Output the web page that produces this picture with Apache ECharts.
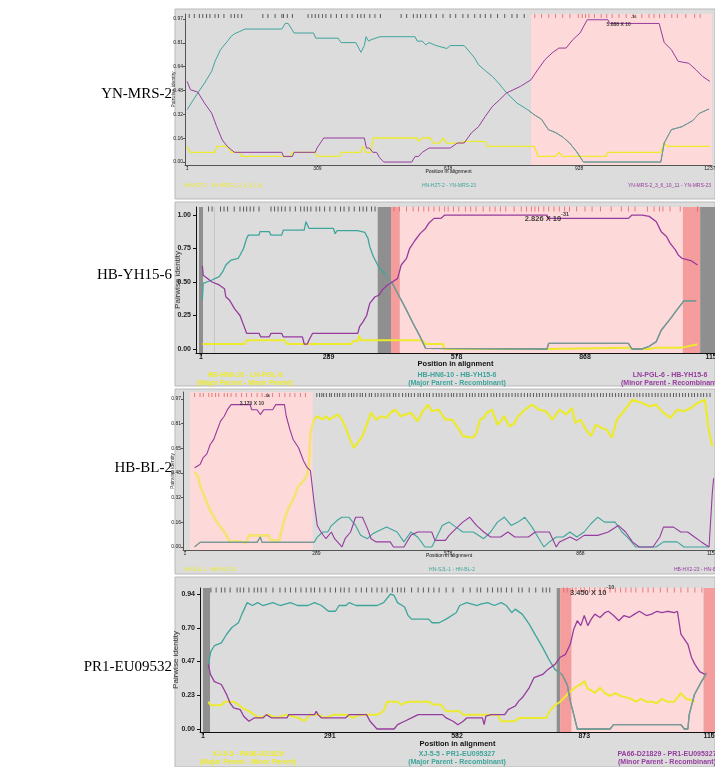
<!DOCTYPE html>
<html>
<head>
<meta charset="utf-8">
<title>RDP recombination plots</title>
<script src="https://cdn.jsdelivr.net/npm/echarts@6.0.0/dist/echarts.min.js"></script>
<style>
html, body { margin: 0; padding: 0; background: #fff; }
#main { width: 715px; height: 767px; }
</style>
</head>
<body>
<div id="main"></div>
<script>
// ---------- data (positions in alignment, pairwise identity) ----------
var panelNames = ['YN-MRS-2', 'HB-YH15-6', 'HB-BL-2', 'PR1-EU09532'];

// panel 1: YN-MRS-2
var p1XTicks = [1, 309, 618, 928, 1237];
var p1YTicks = [0, 0.1617, 0.3233, 0.485, 0.6467, 0.8083, 0.97];
var p1YLabels = ['0.00', '0.16', '0.32', '0.48', '0.64', '0.81', '0.97'];
var p1Yellow = [[1,0.106],[5,0.106],[8,0.066],[67,0.066],[71,0.106],[96,0.106],[105,0.066],[125,0.066],[130,0.038],[246,0.038],[250,0.066],[304,0.066],[308,0.038],[362,0.038],[366,0.066],[412,0.066],[416,0.106],[424,0.066],[436,0.066],[441,0.163],[544,0.163],[548,0.14],[557,0.163],[577,0.163],[582,0.129],[598,0.129],[606,0.163],[615,0.129],[648,0.129],[656,0.14],[706,0.14],[710,0.106],[822,0.106],[831,0.038],[872,0.038],[880,0.066],[889,0.038],[992,0.038],[996,0.066],[1121,0.066],[1129,0.129],[1138,0.106],[1237,0.106]];
var p1Teal = [[1,0.355],[26,0.468],[42,0.535],[59,0.615],[67,0.683],[80,0.762],[96,0.818],[105,0.852],[113,0.87],[125,0.885],[138,0.902],[225,0.902],[233,0.94],[240,0.94],[254,0.875],[300,0.875],[305,0.84],[358,0.84],[365,0.81],[400,0.81],[412,0.744],[420,0.79],[424,0.85],[430,0.82],[436,0.83],[457,0.85],[540,0.85],[545,0.82],[557,0.82],[565,0.795],[573,0.81],[590,0.79],[615,0.77],[623,0.79],[656,0.79],[665,0.76],[681,0.705],[690,0.66],[706,0.62],[723,0.58],[739,0.53],[756,0.47],[781,0.40],[806,0.355],[822,0.32],[839,0.29],[855,0.22],[872,0.2],[889,0.17],[905,0.13],[922,0.07],[938,0],[1121,0],[1129,0.13],[1146,0.22],[1171,0.24],[1196,0.28],[1212,0.33],[1235,0.36]];
var p1Purple = [[1,0.547],[9,0.49],[26,0.475],[42,0.40],[59,0.332],[71,0.24],[84,0.15],[96,0.106],[113,0.066],[225,0.066],[229,0.038],[250,0.038],[254,0.066],[304,0.066],[308,0.095],[316,0.129],[324,0.163],[420,0.163],[425,0.095],[432,0.095],[440,0.066],[449,0.066],[456,0.03],[466,0],[532,0],[540,0.038],[548,0.038],[557,0.066],[573,0.095],[623,0.095],[640,0.129],[656,0.129],[673,0.197],[690,0.24],[706,0.31],[723,0.378],[739,0.42],[756,0.468],[789,0.513],[814,0.558],[830,0.626],[847,0.694],[864,0.74],[880,0.773],[897,0.773],[913,0.83],[930,0.875],[947,0.965],[996,0.965],[1000,0.94],[1117,0.94],[1129,0.81],[1146,0.762],[1162,0.683],[1187,0.67],[1204,0.626],[1220,0.58],[1237,0.547]];
var p1Sites = [6,18,30,38,47,55,67,75,88,105,113,121,130,180,192,209,225,229,238,250,287,296,304,312,321,329,341,354,366,379,391,404,412,420,433,445,458,507,520,536,545,553,565,577,590,606,623,636,653,665,681,694,706,719,735,752,769,781,798,823,839,856,872,889,906,926,935,943,951,964,980,993,1006,1022,1039,1056,1076,1093,1105,1118,1130,1147,1160,1180,1201,1214];
var p1Regions = [[814, 1242, 'pink']];
var p1Recomb = [814, 1242];
var p1Guides = [];
var p1PValue = [1028, 0.958, '5.888 X 10', '-16'];
var p1Legend = ['HN-HZT-2 - YN-MRS-2_3_6_10_11', 'HN-HZT-2 - YN-MRS-23', 'YN-MRS-2_3_6_10_11 - YN-MRS-23'];

// panel 2: HB-YH15-6
var p2XTicks = [1, 289, 578, 868, 1157];
var p2YTicks = [0, 0.25, 0.5, 0.75, 1.0];
var p2YLabels = ['0.00', '0.25', '0.50', '0.75', '1.00'];
var p2Yellow = [[4,0.037],[100,0.037],[104,0.065],[190,0.065],[195,0.037],[340,0.037],[345,0.06],[355,0.06],[358,0.1],[362,0.065],[500,0.065],[508,0.037],[547,0.037],[551,0],[782,0],[786,0.01],[966,0.01],[974,0],[1013,0],[1029,0.01],[1087,0.01],[1122,0.035]];
var p2Teal = [[4,0.366],[6,0.49],[26,0.515],[42,0.54],[50,0.577],[57,0.627],[69,0.664],[85,0.677],[89,0.70],[97,0.75],[104,0.826],[108,0.85],[132,0.85],[134,0.876],[155,0.876],[159,0.85],[183,0.85],[187,0.888],[234,0.888],[238,0.95],[241,0.94],[245,0.9],[300,0.9],[304,0.86],[308,0.883],[355,0.883],[371,0.87],[378,0.826],[382,0.764],[390,0.69],[402,0.614],[418,0.552],[433,0.49],[449,0.39],[465,0.29],[480,0.19],[496,0.09],[508,0.005],[782,0],[786,0.042],[966,0.042],[974,0],[997,0],[1013,0.02],[1029,0.055],[1040,0.14],[1052,0.19],[1064,0.24],[1075,0.29],[1087,0.34],[1091,0.36],[1119,0.36]];
var p2Purple = [[4,0.62],[6,0.55],[26,0.50],[42,0.478],[54,0.45],[57,0.39],[65,0.366],[77,0.30],[89,0.25],[97,0.18],[104,0.117],[132,0.117],[136,0.09],[155,0.09],[159,0.117],[183,0.117],[187,0.09],[230,0.09],[234,0.037],[241,0.037],[245,0.067],[253,0.117],[296,0.117],[300,0.13],[304,0.117],[355,0.117],[359,0.167],[367,0.204],[375,0.25],[382,0.34],[394,0.39],[402,0.40],[410,0.44],[422,0.478],[433,0.50],[445,0.527],[453,0.627],[465,0.677],[472,0.75],[484,0.81],[496,0.863],[508,0.9],[515,0.938],[527,0.975],[543,0.975],[551,1.0],[782,1.0],[786,0.975],[966,0.975],[974,1.0],[997,1.0],[1013,0.99],[1029,0.95],[1040,0.876],[1052,0.84],[1060,0.79],[1072,0.74],[1079,0.70],[1087,0.677],[1107,0.66],[1122,0.627]];
var p2Sites = [18,26,45,53,61,76,89,97,104,112,120,132,159,167,175,183,191,202,214,226,234,241,249,261,269,280,292,304,316,324,335,347,359,367,375,386,394,437,449,465,480,492,504,515,527,539,551,559,571,583,598,610,622,638,653,665,677,689,708,724,736,747,755,763,775,786,798,810,822,833,849,868,884,903,927,950,966,981,1009,1024,1036,1044,1060,1083,1122];
var p2Regions = [[-3.5, 5.5, 'grey'], [400, 430, 'grey'], [430, 450, 'red'], [450, 1089, 'pink'], [1089, 1128, 'red'], [1128, 1162, 'grey']];
var p2Recomb = [430, 1162];
var p2Guides = [30];
var p2PValue = [782, 0.985, '2.826 X 10', '-31'];
var p2Legend = ['HB-HN6-10 - LN-PGL-6\n(Major Parent - Minor Parent)', 'HB-HN6-10 - HB-YH15-6\n(Major Parent - Recombinant)', 'LN-PGL-6 - HB-YH15-6\n(Minor Parent - Recombinant)'];

// panel 3: HB-BL-2
var p3XTicks = [1, 289, 578, 868, 1157];
var p3YTicks = [0, 0.1617, 0.3233, 0.485, 0.6467, 0.8083, 0.97];
var p3YLabels = ['0.00', '0.16', '0.32', '0.48', '0.65', '0.81', '0.97'];
var p3Yellow = [[22,0.49],[30,0.46],[34,0.40],[41,0.35],[49,0.29],[56,0.24],[72,0.16],[87,0.10],[98,0.04],[102,0.03],[136,0.03],[140,0.076],[185,0.076],[189,0.043],[208,0.043],[212,0.1],[219,0.18],[227,0.25],[238,0.31],[250,0.40],[261,0.434],[269,0.477],[273,0.55],[276,0.75],[284,0.835],[291,0.857],[303,0.835],[310,0.857],[318,0.835],[329,0.857],[337,0.868],[345,0.835],[352,0.79],[360,0.727],[371,0.65],[379,0.68],[390,0.727],[398,0.79],[409,0.88],[420,0.835],[432,0.857],[443,0.846],[451,0.88],[462,0.9],[474,0.857],[496,0.88],[511,0.824],[522,0.89],[534,0.933],[542,0.89],[557,0.9],[572,0.835],[587,0.835],[602,0.77],[610,0.727],[633,0.716],[640,0.75],[648,0.835],[656,0.846],[663,0.88],[674,0.9],[686,0.802],[693,0.824],[701,0.857],[712,0.79],[724,0.813],[731,0.857],[746,0.9],[762,0.933],[777,0.9],[792,0.89],[807,0.835],[822,0.9],[837,0.868],[849,0.911],[857,0.813],[868,0.835],[880,0.77],[891,0.727],[902,0.802],[914,0.78],[925,0.77],[937,0.716],[948,0.835],[963,0.89],[982,0.965],[1004,0.944],[1019,0.922],[1034,0.933],[1050,0.88],[1065,0.846],[1080,0.9],[1095,0.89],[1110,0.911],[1125,0.944],[1141,0.965],[1149,0.77],[1157,0.66]];
var p3Teal = [[22,0],[34,0.03],[159,0.03],[166,0.065],[170,0.03],[284,0.03],[291,0.065],[303,0.098],[314,0.098],[322,0.14],[337,0.18],[345,0.195],[360,0.195],[375,0.141],[386,0.076],[401,0.054],[413,0.087],[420,0.098],[443,0.13],[466,0.098],[481,0.033],[496,0.098],[511,0.065],[519,0.033],[527,0],[542,0],[553,0.065],[565,0.141],[580,0.163],[595,0.13],[610,0.098],[633,0.098],[656,0.054],[671,0.098],[686,0.163],[701,0.195],[716,0.141],[731,0.163],[746,0.195],[762,0.13],[777,0.054],[788,0],[800,0.033],[815,0.065],[830,0.065],[845,0.098],[860,0.065],[876,0.098],[891,0.152],[906,0.195],[921,0.163],[944,0.163],[959,0.098],[974,0.054],[989,0],[1034,0],[1050,0.033],[1080,0.033],[1095,0],[1150,0]];
var p3Purple = [[22,0.52],[34,0.54],[41,0.586],[49,0.61],[56,0.67],[64,0.705],[72,0.77],[79,0.825],[87,0.857],[94,0.9],[102,0.933],[144,0.933],[147,0.9],[159,0.9],[166,0.868],[174,0.9],[193,0.9],[200,0.933],[219,0.933],[223,0.857],[231,0.77],[238,0.705],[250,0.65],[261,0.564],[269,0.52],[276,0.50],[284,0.293],[291,0.14],[299,0.098],[310,0.054],[322,0.098],[329,0.054],[345,0],[352,0.054],[364,0.098],[375,0.195],[390,0.195],[401,0.12],[409,0.054],[420,0.033],[451,0.033],[458,0],[481,0],[496,0.076],[511,0.098],[542,0.098],[549,0.043],[572,0.043],[580,0.076],[595,0.12],[610,0.163],[625,0.195],[640,0.141],[656,0.098],[671,0.065],[693,0.065],[709,0.098],[724,0.065],[754,0.065],[769,0.098],[800,0.098],[815,0],[822,0.033],[845,0.065],[860,0.043],[876,0.076],[906,0.076],[929,0.098],[951,0.141],[967,0.098],[982,0.033],[997,0],[1027,0],[1042,0.065],[1050,0.13],[1072,0.13],[1088,0.098],[1103,0.098],[1118,0.065],[1133,0.033],[1150,0],[1157,0.35],[1160,0.45]];
var p3Sites = [22,34,41,53,60,68,75,87,94,102,113,125,136,147,159,170,182,193,208,220,231,242,254,265,290,296,301,305,311,318,322,329,335,340,347,352,360,366,371,378,385,390,397,405,410,418,424,431,437,444,450,458,463,470,478,485,491,497,504,512,517,524,531,537,545,552,558,564,571,578,585,590,597,604,610,618,625,631,637,645,651,657,664,672,678,684,691,698,705,711,718,725,731,738,745,752,758,765,772,778,785,792,798,805,812,818,825,832,838,845,852,858,865,872,878,885,892,898,905,912,918,925,932,938,945,952,958,965,972,978,985,992,998,1005,1012,1018,1025,1032,1038,1045,1052,1058,1065,1072,1078,1085,1092,1098,1105,1112,1118,1125,1132,1138,1145,1152];
var p3Regions = [[12, 281, 'pink']];
var p3Recomb = [12, 281];
var p3Guides = [];
var p3PValue = [154, 0.964, '3.170 X 10', '-14'];
var p3Legend = ['HN-SJL-1 - HB-HX2-23', 'HN-SJL-1 - HN-BL-2', 'HB-HX2-23 - HN-BL-2'];

// panel 4: PR1-EU09532
var p4XTicks = [1, 291, 582, 873, 1163];
var p4YTicks = [0, 0.235, 0.47, 0.705, 0.94];
var p4YLabels = ['0.00', '0.23', '0.47', '0.70', '0.94'];
var p4Yellow = [[13,0.19],[19,0.165],[43,0.165],[51,0.19],[71,0.19],[82,0.17],[94,0.14],[106,0.124],[118,0.1],[130,0.077],[150,0.1],[170,0.077],[190,0.1],[220,0.077],[233,0.054],[245,0.1],[265,0.1],[280,0.077],[300,0.1],[330,0.1],[345,0.077],[360,0.1],[400,0.1],[414,0.124],[422,0.19],[446,0.19],[454,0.17],[470,0.19],[520,0.19],[525,0.17],[545,0.17],[557,0.124],[588,0.124],[596,0.1],[675,0.1],[683,0.054],[715,0.054],[723,0.077],[786,0.077],[794,0.124],[806,0.165],[818,0.19],[834,0.24],[849,0.28],[857,0.3],[865,0.31],[873,0.334],[881,0.28],[889,0.27],[897,0.25],[909,0.287],[920,0.25],[932,0.23],[944,0.25],[956,0.23],[968,0.22],[980,0.21],[991,0.19],[1003,0.21],[1015,0.19],[1027,0.19],[1039,0.18],[1051,0.21],[1063,0.19],[1079,0.19],[1094,0.25],[1106,0.21],[1118,0.2],[1126,0.19]];
var p4Teal = [[13,0.45],[19,0.54],[27,0.58],[43,0.60],[55,0.66],[67,0.707],[82,0.74],[90,0.80],[102,0.88],[114,0.86],[126,0.88],[138,0.86],[161,0.88],[177,0.86],[201,0.88],[217,0.86],[241,0.86],[256,0.88],[272,0.86],[288,0.82],[304,0.82],[312,0.86],[328,0.86],[335,0.88],[351,0.86],[399,0.86],[414,0.88],[430,0.94],[438,0.93],[446,0.88],[462,0.85],[470,0.79],[478,0.765],[517,0.765],[525,0.74],[541,0.74],[557,0.765],[580,0.81],[588,0.86],[604,0.88],[628,0.86],[636,0.87],[652,0.88],[667,0.86],[683,0.88],[695,0.86],[707,0.81],[715,0.835],[731,0.80],[747,0.73],[762,0.65],[778,0.567],[794,0.474],[806,0.415],[822,0.38],[834,0.31],[841,0.194],[849,0.1],[857,0],[932,0],[940,0.03],[1094,0.03],[1102,0],[1110,0],[1113,0.1],[1125,0.24],[1141,0.33],[1153,0.39]];
var p4Purple = [[13,0.45],[18,0.38],[27,0.33],[43,0.31],[55,0.24],[63,0.18],[71,0.147],[86,0.135],[94,0.089],[106,0.054],[118,0.077],[138,0.077],[146,0.1],[158,0.077],[193,0.077],[197,0.1],[256,0.1],[260,0.124],[264,0.1],[272,0.077],[327,0.077],[335,0.1],[375,0.1],[383,0.054],[399,0],[438,0],[446,0.03],[462,0.054],[478,0.077],[493,0.1],[549,0.1],[557,0.077],[573,0.054],[584,0.03],[596,0.054],[604,0.077],[640,0.077],[644,0.03],[648,0.089],[660,0.1],[691,0.1],[699,0.135],[715,0.16],[723,0.194],[731,0.217],[747,0.287],[758,0.357],[778,0.38],[790,0.415],[806,0.45],[818,0.5],[830,0.52],[841,0.59],[849,0.695],[857,0.754],[865,0.72],[873,0.79],[881,0.72],[889,0.765],[897,0.80],[909,0.777],[920,0.81],[928,0.82],[940,0.79],[952,0.754],[964,0.79],[976,0.777],[988,0.80],[999,0.82],[1015,0.79],[1027,0.80],[1039,0.82],[1051,0.81],[1063,0.82],[1079,0.81],[1086,0.82],[1094,0.66],[1110,0.59],[1118,0.5],[1126,0.45],[1137,0.40],[1149,0.38]];
var p4Sites = [19,31,43,51,63,79,86,94,106,118,126,134,145,161,177,189,201,213,225,237,248,256,268,280,292,304,316,324,335,351,363,375,387,399,410,422,434,446,454,462,478,493,505,517,529,541,557,573,596,612,628,636,652,663,675,683,695,707,723,731,747,762,778,786,794,826,834,846,854,865,873,885,897,909,920,932,944,956,968,980,991,1007,1019,1031,1047,1063,1079,1094,1110,1126,1142];
var p4Regions = [[1, 17, 'grey'], [810, 818, 'grey'], [818, 844, 'red'], [844, 1146, 'pink'], [1146, 1172, 'red']];
var p4Recomb = [818, 1172];
var p4Guides = [];
var p4PValue = [891, 0.962, '3.450 X 10', '-10'];
var p4Legend = ['XJ-5-5 - PA66-D21829\n(Major Parent - Minor Parent)', 'XJ-5-5 - PR1-EU095327\n(Major Parent - Recombinant)', 'PA66-D21829 - PR1-EU095327\n(Minor Parent - Recombinant)'];

// ---------- layout & style ----------
var colors = {
  yellow: '#ecea2e', yellowSoft: '#f6e27a', teal: '#3ea59c', tealGrey: '#7f9694',
  purple: '#963c9e', bg: '#dcdcdc', site: '#3a3a3a', siteRed: '#e06464'
};
var regionFill = { grey: '#8f8f8f', red: '#f59c9c', pink: '#fdd9d9' };

var layout = [
  { box: [175, 9, 540, 190], grid: [185, 14, 527, 151], xr: [-4, 1242], yr: [-0.02, 1.004], big: false,
    siteVal: 0.99, nameY: 94, xMargin: 1, yMargin: 2, xNameGap: 4, yNameGap: 9, lw: 1, yw: 1.3,
    legY: 186, legX: [184, 449, 711], legAlign: ['left', 'center', 'right'] },
  { box: [175, 202, 540, 184], grid: [196, 207, 519, 146], xr: [-10.3, 1161.5], yr: [-0.03, 1.06], big: true,
    siteVal: 1.045, nameY: 275, xMargin: 1, yMargin: 5, xNameGap: 7, yNameGap: 14, lw: 1.3, yw: 2,
    legY: 379, legX: [245, 457, 670], legAlign: ['center', 'center', 'center'] },
  { box: [175, 389, 540, 185], grid: [183, 392, 532, 158], xr: [-3.4, 1163], yr: [-0.02, 1.016], big: false,
    siteVal: 0.996, nameY: 468, xMargin: 1, yMargin: 2, xNameGap: 3, yNameGap: 8, lw: 1.1, yw: 2.2,
    legY: 570, legX: [184, 452, 674], legAlign: ['left', 'center', 'left'] },
  { box: [175, 577, 540, 190], grid: [200, 588, 515, 144], xr: [-5.9, 1172], yr: [-0.021, 0.982], big: true,
    siteVal: 0.968, nameY: 667, xMargin: 1, yMargin: 5, xNameGap: 8, yNameGap: 20, lw: 1.3, yw: 2,
    legY: 758, legX: [248, 457, 667], legAlign: ['center', 'center', 'center'] }
];

var panels = [
  { yellow: p1Yellow, teal: p1Teal, purple: p1Purple, sites: p1Sites, regions: p1Regions, recomb: p1Recomb, guides: p1Guides, pv: p1PValue, legend: p1Legend, xTicks: p1XTicks, yTicks: p1YTicks, yLabels: p1YLabels },
  { yellow: p2Yellow, teal: p2Teal, purple: p2Purple, sites: p2Sites, regions: p2Regions, recomb: p2Recomb, guides: p2Guides, pv: p2PValue, legend: p2Legend, xTicks: p2XTicks, yTicks: p2YTicks, yLabels: p2YLabels },
  { yellow: p3Yellow, teal: p3Teal, purple: p3Purple, sites: p3Sites, regions: p3Regions, recomb: p3Recomb, guides: p3Guides, pv: p3PValue, legend: p3Legend, xTicks: p3XTicks, yTicks: p3YTicks, yLabels: p3YLabels },
  { yellow: p4Yellow, teal: p4Teal, purple: p4Purple, sites: p4Sites, regions: p4Regions, recomb: p4Recomb, guides: p4Guides, pv: p4PValue, legend: p4Legend, xTicks: p4XTicks, yTicks: p4YTicks, yLabels: p4YLabels }
];

// part of a line that lies in [a, b], keeping one neighbour on each side
function sliceRange(pts, a, b) {
  var out = [];
  for (var k = 0; k < pts.length; k++) {
    var prevIn = k + 1 < pts.length && pts[k + 1][0] >= a;
    var nextIn = k > 0 && pts[k - 1][0] <= b;
    if ((pts[k][0] >= a && pts[k][0] <= b) || (pts[k][0] < a && prevIn) || (pts[k][0] > b && nextIn)) out.push(pts[k]);
  }
  return out;
}

function renderRegion(params, api) {
  var cs = params.coordSys;
  var p0 = api.coord([api.value(0), 0]);
  var p1 = api.coord([api.value(1), 0]);
  var rect = echarts.graphic.clipRectByRect(
    { x: p0[0], y: cs.y, width: p1[0] - p0[0], height: cs.height },
    { x: cs.x, y: cs.y, width: cs.width, height: cs.height });
  return rect && { type: 'rect', shape: rect, style: { fill: api.visual('color') } };
}

function renderGuide(params, api) {
  var cs = params.coordSys;
  var x = Math.round(api.coord([api.value(0), 0])[0]) + 0.5;
  return { type: 'line', shape: { x1: x, y1: cs.y, x2: x, y2: cs.y + cs.height }, style: { stroke: '#c6c6c6', lineWidth: 1 } };
}

var chart = echarts.init(document.getElementById('main'), null, { renderer: 'canvas' });
var option = { animation: false, backgroundColor: '#ffffff', grid: [], xAxis: [], yAxis: [], series: [], graphic: [] };

panels.forEach(function (p, i) {
  var L = layout[i];
  var fs = L.big ? 7 : 5;
  var fw = L.big ? 'bold' : 'normal';
  var axisCol = L.big ? '#111' : '#555';

  option.grid.push({ left: L.grid[0], top: L.grid[1], width: L.grid[2], height: L.grid[3], show: false, outerBoundsMode: 'none', containLabel: false });

  option.xAxis.push({
    type: 'value', gridIndex: i, min: L.xr[0], max: L.xr[1],
    name: 'Position in alignment', nameLocation: 'middle', nameGap: L.xNameGap, nameMoveOverlap: false,
    nameTextStyle: { fontSize: L.big ? 7.5 : 5, fontWeight: fw, color: '#111', fontFamily: 'Arial' },
    axisLine: { onZero: false, lineStyle: { color: axisCol, width: 1 } },
    axisTick: { customValues: p.xTicks, length: L.big ? 3 : 2, lineStyle: { color: axisCol } },
    axisLabel: { customValues: p.xTicks, margin: L.xMargin, fontSize: fs, fontWeight: fw, color: '#222', fontFamily: 'Arial',
      hideOverlap: false, formatter: function (v) { return String(Math.round(v)); } },
    splitLine: { show: false }
  });

  option.yAxis.push({
    type: 'value', gridIndex: i, min: L.yr[0], max: L.yr[1],
    name: 'Pairwise identity', nameLocation: 'middle', nameRotate: 90, nameGap: L.yNameGap, nameMoveOverlap: false,
    nameTextStyle: { fontSize: L.big ? 8 : 5, color: '#333', fontFamily: 'Arial' },
    axisLine: { onZero: false, lineStyle: { color: axisCol, width: 1 } },
    axisTick: { customValues: p.yTicks, length: L.big ? 3 : 2, lineStyle: { color: axisCol } },
    axisLabel: { customValues: p.yTicks, margin: L.yMargin, fontSize: fs, fontWeight: fw, color: '#222', fontFamily: 'Arial',
      hideOverlap: false,
      formatter: function (v) {
        for (var k = 0; k < p.yTicks.length; k++) { if (Math.abs(p.yTicks[k] - v) < 1e-6) return p.yLabels[k]; }
        return '';
      } },
    splitLine: { show: false }
  });

  // shaded regions
  option.series.push({
    type: 'custom', xAxisIndex: i, yAxisIndex: i, z: 1, silent: true, renderItem: renderRegion,
    encode: { x: [0, 1] },
    data: p.regions.map(function (r) { return { value: [r[0], r[1]], itemStyle: { color: regionFill[r[2]] } }; })
  });
  if (p.guides.length) {
    option.series.push({
      type: 'custom', xAxisIndex: i, yAxisIndex: i, z: 1, silent: true, renderItem: renderGuide,
      encode: { x: 0 }, data: p.guides.map(function (g) { return [g]; })
    });
  }

  // informative sites along the top
  var inside = function (s) { return s >= p.recomb[0] && s <= p.recomb[1]; };
  var siteSize = L.big ? [1, 5] : [1, 4];
  option.series.push({
    type: 'scatter', xAxisIndex: i, yAxisIndex: i, symbol: 'rect', symbolSize: siteSize, silent: true, z: 2,
    itemStyle: { color: colors.site },
    data: p.sites.filter(function (s) { return !inside(s); }).map(function (s) { return [s, L.siteVal]; })
  });
  option.series.push({
    type: 'scatter', xAxisIndex: i, yAxisIndex: i, symbol: 'rect', symbolSize: siteSize, silent: true, z: 2,
    itemStyle: { color: colors.siteRed },
    data: p.sites.filter(inside).map(function (s) { return [s, L.siteVal]; })
  });

  // the three pairwise identity lines
  var lines = [
    [p.yellow, L.yw, colors.yellow],
    [p.teal, L.lw, colors.teal],
    [sliceRange(p.teal, p.recomb[0], p.recomb[1]), L.lw, colors.tealGrey],
    [p.purple, L.lw, colors.purple]
  ];
  if (i === 2) lines.splice(1, 0, [sliceRange(p.yellow, p.recomb[0], p.recomb[1]), L.yw, colors.yellowSoft]);
  lines.forEach(function (ln) {
    option.series.push({
      type: 'line', xAxisIndex: i, yAxisIndex: i, data: ln[0], symbol: 'none', z: 3, silent: true,
      lineStyle: { width: ln[1], color: ln[2] }, itemStyle: { color: ln[2] }
    });
  });

  // p-value annotation
  option.series.push({
    type: 'scatter', xAxisIndex: i, yAxisIndex: i, symbolSize: 0, silent: true, z: 5,
    data: [[p.pv[0], p.pv[1]]],
    label: { show: true, position: 'inside', formatter: '{a|' + p.pv[2] + '}{b|' + p.pv[3] + '}',
      rich: {
        a: { fontSize: L.big ? 7.5 : 5, fontWeight: 'bold', color: '#111', fontFamily: 'Arial', lineHeight: 12, verticalAlign: 'bottom' },
        b: { fontSize: L.big ? 5.5 : 4, fontWeight: 'bold', color: '#111', fontFamily: 'Arial', lineHeight: 12, verticalAlign: 'top' }
      } }
  });

  // panel background, sample name, legend
  option.graphic.push({ type: 'rect', z: -10, silent: true,
    shape: { x: L.box[0], y: L.box[1], width: L.box[2], height: L.box[3] },
    style: { fill: colors.bg, stroke: '#b9b9b9', lineWidth: 1 } });
  option.graphic.push({ type: 'text', z: 10, silent: true, x: 172, y: L.nameY,
    style: { text: panelNames[i], fill: '#000', font: '15px "Liberation Serif"', align: 'right', verticalAlign: 'middle' } });
  var legCols = [colors.yellow, colors.teal, colors.purple];
  p.legend.forEach(function (t, k) {
    option.graphic.push({ type: 'text', z: 10, silent: true, x: L.legX[k], y: L.legY,
      style: { text: t, fill: legCols[k], align: L.legAlign[k], verticalAlign: 'middle',
        font: (L.big ? 'bold 7px' : '5px') + ' Arial', lineHeight: 8 } });
  });
});

chart.setOption(option);
</script>
</body>
</html>
